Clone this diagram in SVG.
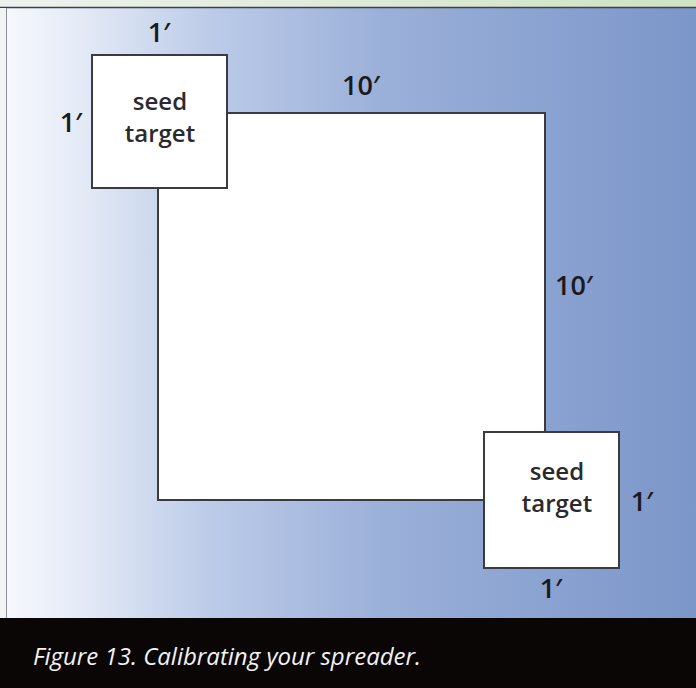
<svg xmlns="http://www.w3.org/2000/svg" width="696" height="688" viewBox="0 0 696 688">
<defs>
<linearGradient id="bg" x1="0" y1="0" x2="1" y2="0">
<stop offset="0" stop-color="#f7f9fd"/>
<stop offset="0.12" stop-color="#e3eaf6"/>
<stop offset="0.3" stop-color="#bccbe8"/>
<stop offset="0.55" stop-color="#9bb0d9"/>
<stop offset="1" stop-color="#7b96c9"/>
</linearGradient>
<linearGradient id="topstrip" x1="0" y1="0" x2="1" y2="0">
<stop offset="0" stop-color="#eef2ee"/>
<stop offset="1" stop-color="#cfe3c2"/>
</linearGradient>
<style>
.box{fill:#ffffff;stroke:#3a3a40;stroke-width:2}
.dim{font-family:"Open Sans","Liberation Sans",sans-serif;font-weight:600;font-size:27px;fill:#1a1a1f;text-anchor:middle}
.lbl{font-family:"Open Sans","Liberation Sans",sans-serif;font-weight:600;font-size:24px;fill:#2a2a2e;text-anchor:middle}
.cap{font-family:"Open Sans","Liberation Sans",sans-serif;font-style:italic;font-size:24px;fill:#f2f2f2}
</style>
</defs>
<rect x="0" y="0" width="696" height="688" fill="url(#bg)"/>
<rect x="0" y="0" width="696" height="7" fill="url(#topstrip)"/>
<line x1="0" y1="7.5" x2="696" y2="7.5" stroke="#3c4150" stroke-width="1.5"/>
<rect x="0" y="8" width="6" height="610" fill="#f2f3f5"/>
<line x1="6.5" y1="8" x2="6.5" y2="618" stroke="#8a8e98" stroke-width="1"/>
<g id="field">
<rect class="box" x="158" y="113" width="387" height="387"/>
</g>
<g id="target1">
<rect class="box" x="92" y="55" width="135" height="133"/>
<text class="lbl" x="160" y="110">seed</text>
<text class="lbl" x="160" y="142">target</text>
</g>
<g id="target2">
<rect class="box" x="484" y="432" width="135" height="136"/>
<text class="lbl" x="557" y="480">seed</text>
<text class="lbl" x="557" y="512">target</text>
</g>
<g id="dimensions">
<text class="dim" x="159" y="42">1′</text>
<text class="dim" x="71" y="132">1′</text>
<text class="dim" x="361" y="95">10′</text>
<text class="dim" x="574" y="295">10′</text>
<text class="dim" x="642" y="511">1′</text>
<text class="dim" x="551" y="598">1′</text>
</g>
<g id="caption">
<rect x="0" y="618" width="696" height="70" fill="#0a0606"/>
<text class="cap" x="33" y="665">Figure 13. Calibrating your spreader.</text>
</g>
</svg>
